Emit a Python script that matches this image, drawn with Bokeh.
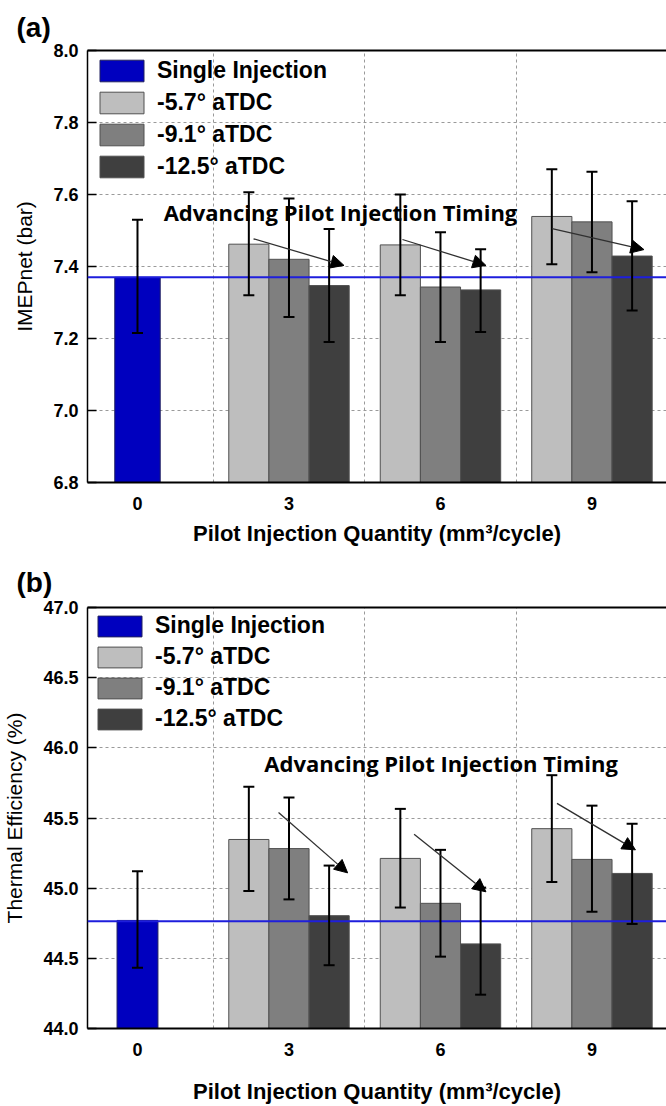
from bokeh.plotting import figure
from bokeh.models import (Range1d, FixedTicker, Whisker, ColumnDataSource, Legend, LegendItem,
                          Span, Arrow, NormalHead, Label, LinearAxis, TeeHead, NumeralTickFormatter)
from bokeh.layouts import column
from bokeh.embed import file_html
from bokeh.resources import INLINE

# ---------------- data ----------------
categories = ["0", "3", "6", "9"]
pilot_groups = [1, 2, 3]          # index of categories with pilot injection
series_names = ["-5.7° aTDC", "-9.1° aTDC", "-12.5° aTDC"]
series_colors = ["#BEBEBE", "#7F7F7F", "#3F3F3F"]
single_color = "#0000BF"

# (a) IMEPnet (bar)
imep_single = 7.37
imep_single_hi = 7.53
imep_single_lo = 7.215
imep_ref_line = 7.37
imep_57 = [7.462, 7.46, 7.539]
imep_57_hi = [7.606, 7.60, 7.67]
imep_57_lo = [7.32, 7.32, 7.406]
imep_91 = [7.42, 7.343, 7.524]
imep_91_hi = [7.589, 7.495, 7.663]
imep_91_lo = [7.26, 7.19, 7.384]
imep_125 = [7.347, 7.335, 7.429]
imep_125_hi = [7.504, 7.448, 7.581]
imep_125_lo = [7.19, 7.218, 7.278]
imep_ticks = [6.8, 7.0, 7.2, 7.4, 7.6, 7.8, 8.0]
imep_arrow_x0 = [0.766, 1.749, 2.737]
imep_arrow_y0 = [7.477, 7.475, 7.505]
imep_arrow_x1 = [1.363, 2.30, 3.343]
imep_arrow_y1 = [7.403, 7.403, 7.447]
imep_note_xy = (1.34, 7.551)

# (b) Thermal Efficiency (%)
te_single = 44.77
te_single_hi = 45.12
te_single_lo = 44.433
te_ref_line = 44.765
te_57 = [45.347, 45.212, 45.424]
te_57_hi = [45.723, 45.565, 45.805]
te_57_lo = [44.979, 44.862, 45.044]
te_91 = [45.282, 44.892, 45.205]
te_91_hi = [45.646, 45.273, 45.588]
te_91_lo = [44.92, 44.512, 44.832]
te_125 = [44.804, 44.603, 45.105]
te_125_hi = [45.161, 45.004, 45.459]
te_125_lo = [44.451, 44.241, 44.745]
te_ticks = [44.0, 44.5, 45.0, 45.5, 46.0, 46.5, 47.0]
te_arrow_x0 = [0.931, 1.826, 2.769]
te_arrow_y0 = [45.539, 45.385, 45.604]
te_arrow_x1 = [1.387, 2.30, 3.287]
te_arrow_y1 = [45.109, 44.974, 45.273]
te_note_xy = (2.004, 45.891)

note_text = "Advancing Pilot Injection Timing"
x_title = "Pilot Injection Quantity (mm³/cycle)"

AX_FONT = "Liberation Sans"


def make_panel(tag, ytitle, yrange, yticks, single, s_hi, s_lo, ref_line, series, series_hi, series_lo,
               ax0, ay0, ax1, ay1, note_xy, border_top, border_bottom, single_w, leg_glyph_h, leg_spacing,
               leg_margin, xlabel_standoff, title_standoff):
    p = figure(width=666, height=553, output_backend="svg", toolbar_location=None,
               x_range=Range1d(-0.330, 3.492), y_range=Range1d(*yrange),
               min_border_left=87, min_border_right=0, min_border_top=border_top,
               min_border_bottom=border_bottom)
    p.outline_line_color = None
    p.background_fill_color = "white"

    # title "(a)" / "(b)"
    p.title.text = tag
    p.title.text_font = AX_FONT
    p.title.text_font_size = "28px"
    p.title.text_font_style = "bold"
    p.title.text_color = "black"
    p.title.align = "left"
    p.title.offset = -71
    p.title.standoff = title_standoff

    # grids
    p.ygrid.ticker = FixedTicker(ticks=yticks)
    p.xgrid.ticker = FixedTicker(ticks=[0.5, 1.5, 2.5])
    for g in (p.xgrid, p.ygrid):
        g.grid_line_color = "#9A9A9A"
        g.grid_line_dash = "3 3"
        g.grid_line_width = 1

    # bars
    renderers = []
    r0 = p.vbar(x=[0], top=[single], bottom=yrange[0], width=single_w, fill_color=single_color,
                line_color="#202060", line_width=1)
    renderers.append(r0)
    offsets = [-0.265, 0.0, 0.265]
    wh_x, wh_hi, wh_lo = [0], [s_hi], [s_lo]
    for k in range(3):
        xs = [i + offsets[k] for i in pilot_groups]
        r = p.vbar(x=xs, top=series[k], bottom=yrange[0], width=0.265, fill_color=series_colors[k],
                   line_color="#505050", line_width=1)
        renderers.append(r)
        wh_x += xs
        wh_hi += series_hi[k]
        wh_lo += series_lo[k]

    # reference line
    p.add_layout(Span(location=ref_line, dimension="width", line_color="#1E1EDC", line_width=2,
                      level="overlay"))

    # error bars
    src = ColumnDataSource(dict(x=wh_x, upper=wh_hi, lower=wh_lo))
    p.add_layout(Whisker(source=src, base="x", upper="upper", lower="lower", line_color="black",
                         line_width=2, level="overlay",
                         upper_head=TeeHead(size=11, line_width=2, line_color="black"),
                         lower_head=TeeHead(size=11, line_width=2, line_color="black")))

    # arrows
    for a, b, c, d in zip(ax0, ay0, ax1, ay1):
        p.add_layout(Arrow(x_start=a, y_start=b, x_end=c, y_end=d, line_color="#303030",
                           line_width=1.3, level="overlay",
                           end=NormalHead(size=13, fill_color="black", line_color="black")))

    p.add_layout(Label(x=note_xy[0], y=note_xy[1], text=note_text, text_align="center",
                       text_baseline="middle", text_font="Open Sans", text_font_style="bold",
                       text_font_size="22px", text_color="black"))

    # axes
    p.xaxis.ticker = FixedTicker(ticks=list(range(len(categories))))
    p.xaxis.major_label_overrides = {i: c for i, c in enumerate(categories)}
    p.xaxis.major_tick_line_color = None
    p.xaxis.minor_tick_line_color = None
    p.xaxis.axis_line_width = 2
    p.xaxis.axis_line_color = "black"
    p.xaxis.major_label_text_font = AX_FONT
    p.xaxis.major_label_text_font_style = "bold"
    p.xaxis.major_label_text_font_size = "18px"
    p.xaxis.major_label_text_color = "black"
    p.xaxis.major_label_standoff = 8
    p.xaxis.axis_label = x_title
    p.xaxis.axis_label_text_font = AX_FONT
    p.xaxis.axis_label_text_font_style = "bold"
    p.xaxis.axis_label_text_font_size = "22px"
    p.xaxis.axis_label_text_color = "black"
    p.xaxis.axis_label_standoff = xlabel_standoff

    p.yaxis.ticker = FixedTicker(ticks=yticks)
    p.yaxis.formatter = NumeralTickFormatter(format="0.0")
    p.yaxis.major_tick_in = 9
    p.yaxis.major_tick_out = 0
    p.yaxis.major_tick_line_width = 1.5
    p.yaxis.minor_tick_line_color = None
    p.yaxis.axis_line_width = 1.5
    p.yaxis.axis_line_color = "black"
    p.yaxis.major_label_text_font = AX_FONT
    p.yaxis.major_label_text_font_style = "bold"
    p.yaxis.major_label_text_font_size = "18px"
    p.yaxis.major_label_text_color = "black"
    p.yaxis.major_label_standoff = 9
    p.yaxis.axis_label = ytitle
    p.yaxis.axis_label_text_font = AX_FONT
    p.yaxis.axis_label_text_font_style = "normal"
    p.yaxis.axis_label_text_font_size = "21px"
    p.yaxis.axis_label_text_color = "black"
    p.yaxis.axis_label_standoff = 14

    top_ax = LinearAxis(ticker=FixedTicker(ticks=[]), major_tick_line_color=None,
                        minor_tick_line_color=None, axis_line_width=2, axis_line_color="black")
    p.add_layout(top_ax, "above")

    legend = Legend(items=[LegendItem(label="Single Injection", renderers=[renderers[0]])] +
                    [LegendItem(label=series_names[k], renderers=[renderers[k + 1]]) for k in range(3)],
                    location="top_left")
    legend.margin = leg_margin
    legend.padding = 0
    legend.spacing = leg_spacing
    legend.glyph_width = 55
    legend.glyph_height = leg_glyph_h
    legend.label_height = leg_glyph_h
    legend.label_standoff = 8
    legend.label_text_font = AX_FONT
    legend.label_text_font_style = "bold"
    legend.label_text_font_size = "23px"
    legend.label_text_color = "black"
    legend.label_text_baseline = "middle"
    legend.background_fill_alpha = 0
    legend.border_line_color = None
    p.add_layout(legend)
    return p


p1 = make_panel("(a)", "IMEPnet (bar)", (6.8, 8.0), imep_ticks, imep_single, imep_single_hi, imep_single_lo,
                imep_ref_line, [imep_57, imep_91, imep_125], [imep_57_hi, imep_91_hi, imep_125_hi],
                [imep_57_lo, imep_91_lo, imep_125_lo], imep_arrow_x0, imep_arrow_y0, imep_arrow_x1,
                imep_arrow_y1, imep_note_xy, 50, 71, 0.30, 27, 5, 7, 8, 16)
p2 = make_panel("(b)", "Thermal Efficiency (%)", (44.0, 47.0), te_ticks, te_single, te_single_hi, te_single_lo,
                te_ref_line, [te_57, te_91, te_125], [te_57_hi, te_91_hi, te_125_hi],
                [te_57_lo, te_91_lo, te_125_lo], te_arrow_x0, te_arrow_y0, te_arrow_x1,
                te_arrow_y1, te_note_xy, 54, 71, 0.27, 26, 4, 5, 20, 19)

layout = column(p1, p2, spacing=0)
open("out.html", "w").write(file_html(layout, INLINE))
